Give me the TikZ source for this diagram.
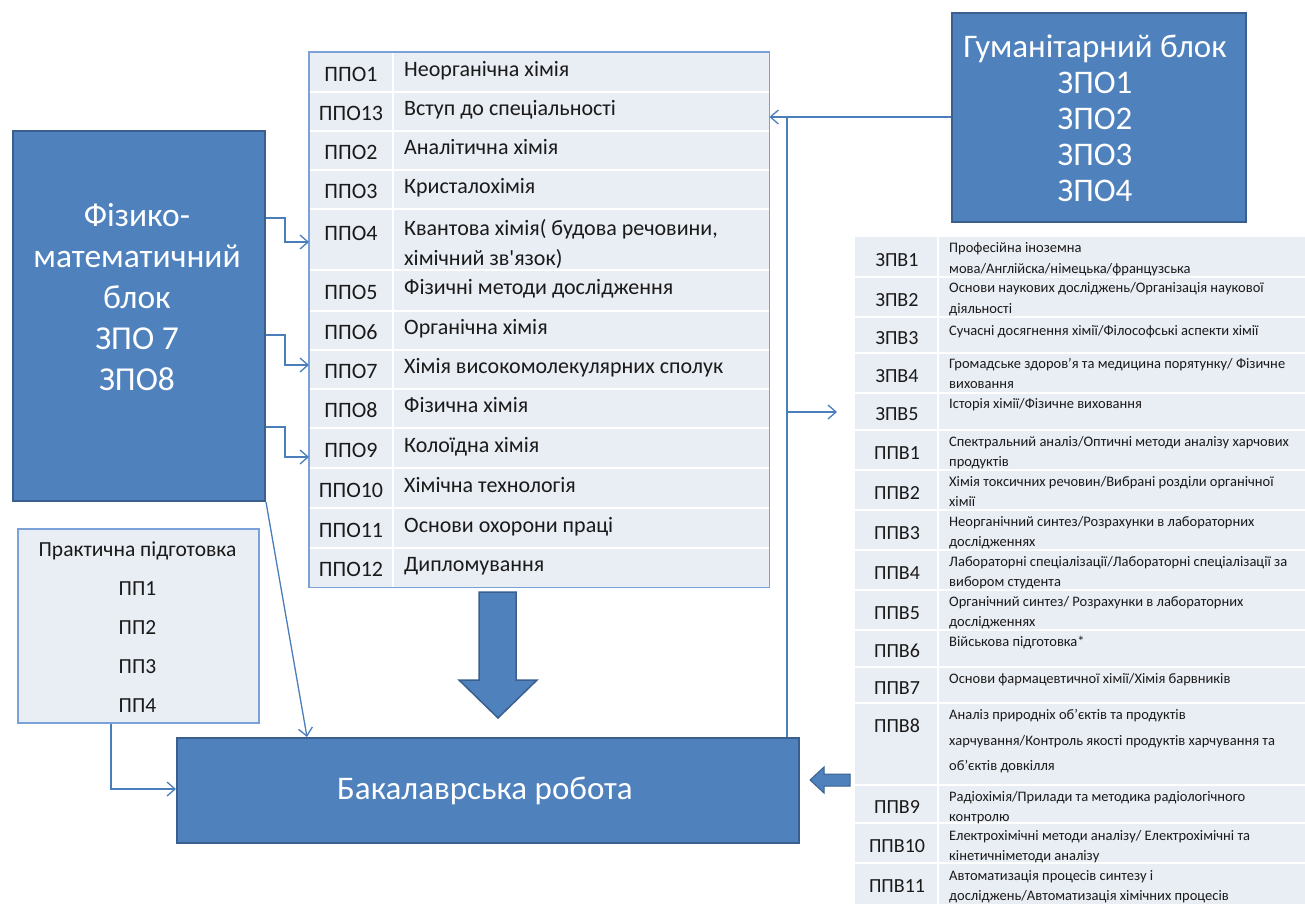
\documentclass[tikz,border=0pt]{standalone}
\usepackage{fontspec}
\setmainfont{Carlito}
\newfontfamily\carlraw{Carlito}[Ligatures=TeXOff]
\usetikzlibrary{arrows.meta,calc}
\definecolor{blueF}{HTML}{4F81BD}
\definecolor{blueB}{HTML}{3A5F8E}
\definecolor{tabF}{HTML}{E9EDF4}
\definecolor{tabB}{HTML}{7AA2D8}
\definecolor{connC}{HTML}{4A7EBB}
\definecolor{txt}{HTML}{1A1A1A}
\newcommand\MDline[3]{\node[mdesc] (#1) at (404,#2) {#3};}
\newcommand\RDline[3]{\node[rdesc] (#1) at (949,#2) {#3};}
\begin{document}
\begin{tikzpicture}[x=1pt,y=-1pt,
 blueblock/.style={draw=blueB, fill=blueF, line width=2pt, rectangle, inner sep=0pt, anchor=north west},
 wtext/.style={text=white, align=center, inner sep=0pt},
 tab/.style={fill=tabF, rectangle, inner sep=0pt, anchor=north west},
 sep/.style={white, line width=2.5pt},
 mcode/.style={font=\fontsize{22}{26}\selectfont, text=txt, anchor=base, inner sep=0pt},
 mdesc/.style={font=\fontsize{22}{26}\selectfont, text=txt, anchor=base west, inner sep=0pt},
 rcode/.style={font=\fontsize{20}{24}\selectfont, text=txt, anchor=base, inner sep=0pt},
 rdesc/.style={font=\fontsize{14.5}{18}\selectfont, text=txt, anchor=base west, inner sep=0pt},
 ptext/.style={font=\fontsize{21.5}{25}\selectfont, text=txt, anchor=base, inner sep=0pt},
 conn/.style={draw=connC, line width=1.3pt, -{Straight Barb[length=8pt,width=14pt,line width=1.3pt]}},
 plain/.style={draw=connC, line width=1.3pt},
 bigarrow/.style={fill=blueF, draw=blueB, line width=1.5pt, line join=miter}
]
\path[use as bounding box, clip] (0,0) rectangle (1305,903);
\fill[white] (0,0) rectangle (1305,903);

% ---------- blue blocks ----------
\node[blueblock, minimum width=252pt, minimum height=370pt] (phys) at (12,130) {};
\node[wtext, font=\fontsize{33.5}{41}\selectfont] (physT) at (137,297) {Фізико-\\математичний\\блок\\ЗПО 7\\ЗПО8};

\node[blueblock, minimum width=294pt, minimum height=209pt] (hum) at (951,12) {};
\node[wtext, font=\fontsize{33}{36}\selectfont] (humT) at (1095,118) {Гуманітарний блок\\ЗПО1\\ЗПО2\\ЗПО3\\ЗПО4};

\node[blueblock, minimum width=622pt, minimum height=105pt] (bak) at (176,737) {};
\node[wtext, font=\fontsize{33}{38}\selectfont] (bakT) at (485,791) {Бакалаврська робота};

% ---------- middle table ----------
\node[tab, minimum width=460pt, minimum height=535pt] (ppo) at (309,52) {};
\foreach \yy in {92,131,170,209,270,311,350,389,428,468,508,548}
  \draw[sep] (ppo.west |- 0,\yy) -- (ppo.east |- 0,\yy);
\draw[sep] (393,52) -- (393,587);
\draw[tabB, line width=1.5pt] (ppo.north west) rectangle (ppo.south east);

\node[mcode] (c1) at (351,81) {ППО1};
\node[mcode] (c2) at (351,120.5) {ППО13};
\node[mcode] (c3) at (351,159.5) {ППО2};
\node[mcode] (c4) at (351,198.5) {ППО3};
\node[mcode] (c5) at (351,240) {ППО4};
\node[mcode] (c6) at (351,299.5) {ППО5};
\node[mcode] (c7) at (351,339.5) {ППО6};
\node[mcode] (c8) at (351,378.5) {ППО7};
\node[mcode] (c9) at (351,417.5) {ППО8};
\node[mcode] (c10) at (351,457) {ППО9};
\node[mcode] (c11) at (351,497) {ППО10};
\node[mcode] (c12) at (351,537) {ППО11};
\node[mcode] (c13) at (351,576.5) {ППО12};

\MDline{d1}{76}{Неорганічна хімія}
\MDline{d2}{115.5}{Вступ до спеціальності}
\MDline{d3}{154.5}{Аналітична хімія}
\MDline{d4}{193.5}{Кристалохімія}
\MDline{d5a}{235}{Квантова хімія( будова речовини,}
\MDline{d5b}{265}{хімічний зв{\carlraw'}язок)}
\MDline{d6}{294.5}{Фізичні методи дослідження}
\MDline{d7}{334.5}{Органічна хімія}
\MDline{d8}{373.5}{Хімія високомолекулярних сполук}
\MDline{d9}{412.5}{Фізична хімія}
\MDline{d10}{452}{Колоїдна хімія}
\MDline{d11}{492}{Хімічна технологія}
\MDline{d12}{532}{Основи охорони праці}
\MDline{d13}{571.5}{Дипломування}

% ---------- right table ----------
\node[tab, minimum width=460pt, minimum height=680pt] (zpv) at (855,237) {};
\foreach \yy in {277,317,353,393,430,470,510,550,590,630,667,703,785,823,863}
  \draw[sep] (zpv.west |- 0,\yy) -- (zpv.east |- 0,\yy);
\draw[sep] (938,237) -- (938,910);

\node[rcode] (z1) at (897,266) {ЗПВ1};
\node[rcode] (z2) at (897,306) {ЗПВ2};
\node[rcode] (z3) at (897,344) {ЗПВ3};
\node[rcode] (z4) at (897,382) {ЗПВ4};
\node[rcode] (z5) at (897,420) {ЗПВ5};
\node[rcode] (p1) at (897,459) {ППВ1};
\node[rcode] (p2) at (897,499) {ППВ2};
\node[rcode] (p3) at (897,539) {ППВ3};
\node[rcode] (p4) at (897,579) {ППВ4};
\node[rcode] (p5) at (897,619) {ППВ5};
\node[rcode] (p6) at (897,657) {ППВ6};
\node[rcode] (p7) at (897,694) {ППВ7};
\node[rcode] (p8) at (897,732) {ППВ8};
\node[rcode] (p9) at (897,813) {ППВ9};
\node[rcode] (p10) at (897,852) {ППВ10};
\node[rcode] (p11) at (897,892) {ППВ11};

\RDline{r1a}{252}{Професійна іноземна}
\RDline{r1b}{273}{мова/Англійска/німецька/французська}
\RDline{r2a}{292}{Основи наукових досліджень/Організація наукової}
\RDline{r2b}{313}{діяльності}
\RDline{r3a}{335}{Сучасні досягнення хімії/Філософські аспекти хімії}
\RDline{r4a}{368}{Громадське здоров’я та медицина порятунку/ Фізичне}
\RDline{r4b}{388}{виховання}
\RDline{r5a}{408}{Історія хімії/Фізичне виховання}
\RDline{s1a}{446}{Спектральний аналіз/Оптичні методи аналізу харчових}
\RDline{s1b}{466}{продуктів}
\RDline{s2a}{486}{Хімія токсичних речовин/Вибрані розділи органічної}
\RDline{s2b}{506}{хімії}
\RDline{s3a}{526}{Неорганічний синтез/Розрахунки в лабораторних}
\RDline{s3b}{546}{дослідженнях}
\RDline{s4a}{566}{Лабораторні спеціалізації/Лабораторні спеціалізації за}
\RDline{s4b}{586}{вибором студента}
\RDline{s5a}{606}{Органічний синтез/ Розрахунки в лабораторних}
\RDline{s5b}{626}{дослідженнях}
\RDline{s6a}{646}{Військова підготовка*}
\RDline{s7a}{683}{Основи фармацевтичної хімії/Хімія барвників}
\RDline{s8a}{719}{Аналіз природніх об’єктів та продуктів}
\RDline{s8b}{745}{харчування/Контроль якості продуктів харчування та}
\RDline{s8c}{770}{об’єктів довкілля}
\RDline{s9a}{801}{Радіохімія/Прилади та методика радіологічного}
\RDline{s9b}{821}{контролю}
\RDline{s10a}{840}{Електрохімічні методи аналізу/ Електрохімічні та}
\RDline{s10b}{860}{кінетичніметоди аналізу}
\RDline{s11a}{880}{Автоматизація процесів синтезу і}
\RDline{s11b}{900}{досліджень/Автоматизація хімічних процесів}

% ---------- practical box ----------
\node[tab, draw=tabB, line width=1.5pt, minimum width=241pt, minimum height=194pt] (prac) at (17,528) {};
\node[ptext] (pt0) at (137.5,556.5) {Практична підготовка};
\node[ptext] (pt1) at (137.5,595.5) {ПП1};
\node[ptext] (pt2) at (137.5,634.5) {ПП2};
\node[ptext] (pt3) at (137.5,673.5) {ПП3};
\node[ptext] (pt4) at (137.5,712.5) {ПП4};

% ---------- block arrows ----------
\draw[bigarrow] (479,592) -- (516,592) -- (516,680) -- (537,680) -- (498,718) -- (459,680) -- (479,680) -- cycle;
\draw[bigarrow, line width=1pt] (850,774) -- (824,774) -- (824,767) -- (810,780) -- (824,793) -- (824,786) -- (850,786) -- cycle;

% ---------- connectors ----------
\draw[conn] (phys.east |- 0,218) -- (285,218) |- (ppo.west |- 0,242);
\draw[conn] (phys.east |- 0,335) -- (285,335) |- (ppo.west |- 0,365);
\draw[conn] (phys.east |- 0,427) -- (285,427) |- (ppo.west |- 0,457);
\draw[conn] (hum.west |- 0,117) -- (ppo.east |- 0,117);
\draw[plain] (787,117) -- (bak.north -| 787,0);
\coordinate (zpvIn) at (837,412);
\draw[conn] (787,412) -- (zpvIn);
\draw[conn] (phys.south east) -- (bak.north -| 307,0);
\draw[conn] (prac.south -| 111,0) |- (bak.west |- 0,789);
\end{tikzpicture}
\end{document}
